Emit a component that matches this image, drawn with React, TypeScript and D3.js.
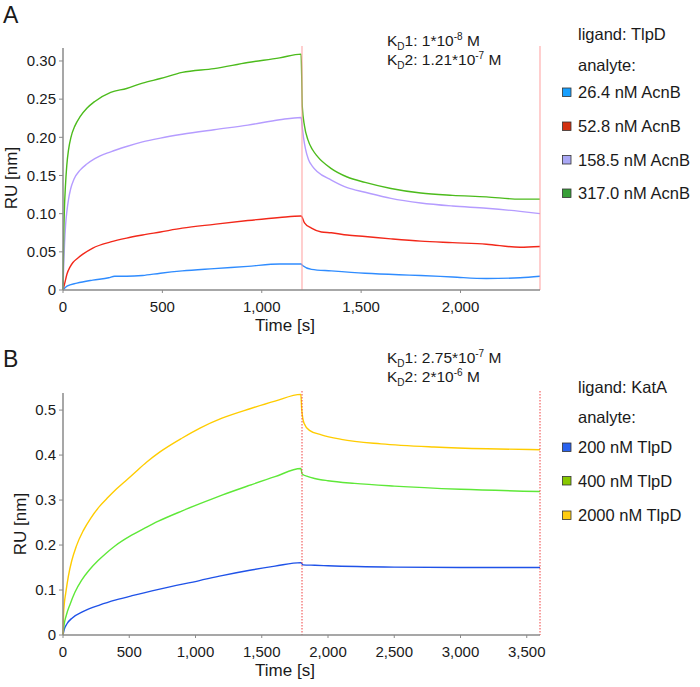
import React from "react";
import * as d3 from "d3";

type P = [number, number];

// Panel A: ligand TlpD, analyte AcnB
const labelsA = ["26.4 nM AcnB", "52.8 nM AcnB", "158.5 nM AcnB", "317.0 nM AcnB"];
const lineColorsA = ["#2f8cff", "#f2281a", "#b59cff", "#4cbb1c"];
const swatchColorsA = ["#18a0ff", "#d23010", "#aaa8f5", "#38a038"];
const xTicksA = [0, 500, 1000, 1500, 2000];
const yTicksA = [0, 0.05, 0.1, 0.15, 0.2, 0.25, 0.3];
const markersA = [1200, 2400];

const blueA: P[] = [[0,0],[20,0.005],[70,0.009],[150,0.013],[230,0.016],[260,0.018],[320,0.018],[400,0.019],[490,0.022],[600,0.025],[760,0.028],[930,0.031],[1090,0.034],[1198,0.034],[1205,0.032],[1250,0.027],[1350,0.025],[1520,0.022],[1690,0.020],[1800,0.019],[1960,0.017],[2130,0.015],[2300,0.016],[2400,0.018]];
const redA: P[] = [[0,0],[8,0.008],[20,0.021],[35,0.03],[50,0.036],[75,0.042],[100,0.047],[150,0.055],[240,0.063],[320,0.068],[400,0.072],[490,0.076],[600,0.081],[760,0.086],[930,0.091],[1090,0.095],[1198,0.097],[1215,0.088],[1250,0.081],[1300,0.076],[1350,0.075],[1430,0.072],[1520,0.070],[1650,0.067],[1800,0.064],[1960,0.062],[2130,0.060],[2300,0.056],[2400,0.057]];
const lavA: P[] = [[0,0],[4,0.035],[8,0.062],[13,0.085],[20,0.104],[28,0.119],[38,0.132],[55,0.145],[86,0.157],[120,0.165],[160,0.172],[240,0.181],[320,0.188],[400,0.194],[490,0.199],[600,0.204],[760,0.210],[930,0.216],[1090,0.223],[1198,0.226],[1203,0.215],[1210,0.200],[1220,0.185],[1235,0.171],[1255,0.162],[1280,0.155],[1350,0.144],[1430,0.134],[1520,0.128],[1650,0.120],[1800,0.114],[1960,0.110],[2130,0.107],[2300,0.103],[2400,0.100]];
const greenA: P[] = [[0,0],[3,0.06],[7,0.105],[12,0.135],[19,0.163],[28,0.184],[40,0.2],[60,0.215],[86,0.227],[120,0.238],[160,0.247],[240,0.259],[320,0.264],[400,0.271],[490,0.277],[600,0.285],[760,0.290],[930,0.298],[1090,0.304],[1198,0.309],[1201,0.28],[1204,0.24],[1215,0.215],[1232,0.197],[1255,0.184],[1280,0.175],[1350,0.159],[1430,0.148],[1520,0.141],[1650,0.133],[1800,0.127],[1960,0.124],[2130,0.122],[2300,0.119],[2400,0.119]];

// Panel B: ligand KatA, analyte TlpD
const labelsB = ["200 nM TlpD", "400 nM TlpD", "2000 nM TlpD"];
const lineColorsB = ["#1f52e8", "#5ee838", "#ffcc00"];
const swatchColorsB = ["#2a62ee", "#88c800", "#ffcc10"];
const xTicksB = [0, 500, 1000, 1500, 2000, 2500, 3000, 3500];
const yTicksB = [0, 0.1, 0.2, 0.3, 0.4, 0.5];
const markersB = [1800, 3600];

const blueB: P[] = [[0,0],[10,0.013],[30,0.025],[70,0.038],[150,0.052],[280,0.067],[400,0.078],[530,0.088],[730,0.102],[1030,0.121],[1200,0.132],[1410,0.144],[1600,0.153],[1795,0.161],[1810,0.156],[1900,0.155],[2000,0.154],[2500,0.151],[3000,0.15],[3600,0.15]];
const greenB: P[] = [[0,0],[8,0.022],[25,0.044],[53,0.068],[90,0.095],[141,0.122],[200,0.145],[267,0.166],[330,0.183],[392,0.198],[518,0.222],[620,0.238],[720,0.253],[900,0.276],[1034,0.292],[1200,0.311],[1411,0.333],[1600,0.352],[1795,0.37],[1805,0.358],[1850,0.352],[1900,0.348],[2000,0.343],[2200,0.337],[2500,0.331],[3000,0.324],[3600,0.319]];
const yellowB: P[] = [[0,0],[4,0.045],[10,0.07],[20,0.092],[40,0.13],[66,0.165],[100,0.197],[153,0.232],[210,0.26],[279,0.287],[340,0.306],[405,0.325],[470,0.342],[531,0.358],[630,0.384],[732,0.407],[900,0.438],[1034,0.46],[1200,0.482],[1411,0.503],[1600,0.52],[1795,0.535],[1802,0.50],[1820,0.47],[1860,0.455],[1950,0.445],[2100,0.435],[2400,0.425],[2800,0.418],[3200,0.414],[3600,0.412]];

const FONT = "'Liberation Sans', Arial, Helvetica, sans-serif";
const AXIS = "#8a8a8a";
const TEXT = "#1a1a1a";

type PanelProps = {
  letter: string;
  top: number;
  bottom: number;
  xMax: number;
  yMax: number;
  xTicks: number[];
  yTicks: number[];
  yFmt: (v: number) => string;
  series: P[][];
  colors: string[];
  swatches: string[];
  labels: string[];
  ligand: string;
  markers: number[];
  dotted: boolean;
  kd1: [string, string];
  kd2: [string, string];
  kdY: number;
  legendY: number[];
  letterY: number;
  ruLabelX: number;
  ruLabelY: number;
};

function KD({ x, y, idx, mant, exp }: { x: number; y: number; idx: string; mant: string; exp: string }) {
  return (
    <text x={x} y={y} fontSize={15.5} fill={TEXT} fontFamily={FONT}>
      K<tspan fontSize={10} dy={4}>D</tspan>
      <tspan dy={-4}>{idx}: {mant}</tspan>
      <tspan fontSize={10} dy={-6}>{exp}</tspan>
      <tspan dy={6}> M</tspan>
    </text>
  );
}

function Panel(p: PanelProps) {
  const x = d3.scaleLinear().domain([0, p.xMax]).range([63, 540]);
  const y = d3.scaleLinear().domain([0, p.yMax]).range([p.bottom, p.top]);
  const line = d3
    .line<P>()
    .x((d) => x(d[0]))
    .y((d) => y(d[1]))
    .curve(d3.curveMonotoneX);
  const fmtX = d3.format(",");
  return (
    <g>
      <text x={3} y={p.letterY} fontSize={23} fontFamily={FONT} fill={TEXT}>
        {p.letter}
      </text>
      {/* series */}
      {p.series.map((s, i) => (
        <path key={"s" + i} d={line(s) || ""} fill="none" stroke={p.colors[i]} strokeWidth={1.4} />
      ))}
      {/* markers */}
      {p.markers.map((m, i) => {
        const mx = Math.round(x(m));
        return (
          <line
            key={"m" + i}
            x1={mx}
            x2={mx}
            y1={p.top - 2}
            y2={p.bottom}
            stroke={p.dotted ? "#f04040" : "#ff9a9a"}
            strokeOpacity={p.dotted ? 1 : 0.6}
            strokeWidth={p.dotted ? 1 : 1.6}
            strokeDasharray={p.dotted ? "1.5,1.5" : undefined}
          />
        );
      })}
      {/* axes */}
      <line x1={63} x2={63} y1={p.top} y2={p.bottom} stroke={AXIS} strokeWidth={1.5} />
      <line x1={63} x2={540} y1={p.bottom} y2={p.bottom} stroke={AXIS} strokeWidth={1.5} />
      {p.yTicks.map((t, i) => (
        <g key={"yt" + i}>
          <line x1={59} x2={63} y1={y(t)} y2={y(t)} stroke={AXIS} strokeWidth={1} />
          <text x={56} y={y(t) + 5.3} textAnchor="end" fontSize={15} fontFamily={FONT} fill={TEXT}>
            {p.yFmt(t)}
          </text>
        </g>
      ))}
      {p.xTicks.map((t, i) => (
        <g key={"xt" + i}>
          <line x1={x(t)} x2={x(t)} y1={p.bottom} y2={p.bottom + 3} stroke={AXIS} strokeWidth={1} />
          <text x={x(t)} y={p.bottom + 22} textAnchor="middle" fontSize={15} fontFamily={FONT} fill={TEXT}>
            {fmtX(t)}
          </text>
        </g>
      ))}
      <text x={285} y={p.bottom + 41} textAnchor="middle" fontSize={17} fontFamily={FONT} fill={TEXT}>
        Time [s]
      </text>
      <text
        transform={`translate(${p.ruLabelX},${p.ruLabelY}) rotate(-90)`}
        textAnchor="middle"
        fontSize={17}
        fontFamily={FONT}
        fill={TEXT}
      >
        RU [nm]
      </text>
      {/* KD annotations */}
      <KD x={387} y={p.kdY} idx="1" mant={p.kd1[0]} exp={p.kd1[1]} />
      <KD x={387} y={p.kdY + 19} idx="2" mant={p.kd2[0]} exp={p.kd2[1]} />
      {/* legend */}
      <text x={578} y={p.legendY[0]} fontSize={16.5} fontFamily={FONT} fill={TEXT}>
        {p.ligand}
      </text>
      <text x={578} y={p.legendY[1]} fontSize={16.5} fontFamily={FONT} fill={TEXT}>
        analyte:
      </text>
      {p.labels.map((l, i) => (
        <g key={"lg" + i}>
          <rect
            x={562.5}
            y={p.legendY[2 + i] - 10}
            width={8.5}
            height={8.5}
            fill={p.swatches[i]}
            stroke="#333"
            strokeWidth={0.8}
          />
          <text x={578} y={p.legendY[2 + i]} fontSize={16.5} fontFamily={FONT} fill={TEXT}>
            {l}
          </text>
        </g>
      ))}
    </g>
  );
}

export default function App() {
  return (
    <svg
      width={700}
      height={687}
      viewBox="0 0 700 687"
      style={{ position: "absolute", left: 0, top: 0, background: "#fff" }}
    >
      <rect x={0} y={0} width={700} height={687} fill="#fff" />
      <Panel
        letter="A"
        letterY={23}
        top={48}
        bottom={290}
        xMax={2400}
        yMax={0.317}
        xTicks={xTicksA}
        yTicks={yTicksA}
        yFmt={(v) => (v === 0 ? "0" : d3.format(".2f")(v))}
        series={[blueA, redA, lavA, greenA]}
        colors={lineColorsA}
        swatches={swatchColorsA}
        labels={labelsA}
        ligand="ligand: TlpD"
        markers={markersA}
        dotted={false}
        kd1={["1*10", "-8"]}
        kd2={["1.21*10", "-7"]}
        kdY={46}
        legendY={[40, 71, 98, 132, 165.5, 199]}
        ruLabelX={17}
        ruLabelY={178}
      />
      <Panel
        letter="B"
        letterY={367}
        top={393}
        bottom={635}
        xMax={3600}
        yMax={0.538}
        xTicks={xTicksB}
        yTicks={yTicksB}
        yFmt={(v) => (v === 0 ? "0" : d3.format(".1f")(v))}
        series={[blueB, greenB, yellowB]}
        colors={lineColorsB}
        swatches={swatchColorsB}
        labels={labelsB}
        ligand="ligand: KatA"
        markers={markersB}
        dotted={true}
        kd1={["2.75*10", "-7"]}
        kd2={["2*10", "-6"]}
        kdY={363}
        legendY={[393, 423, 453, 486.5, 521]}
        ruLabelX={26}
        ruLabelY={524}
      />
    </svg>
  );
}
